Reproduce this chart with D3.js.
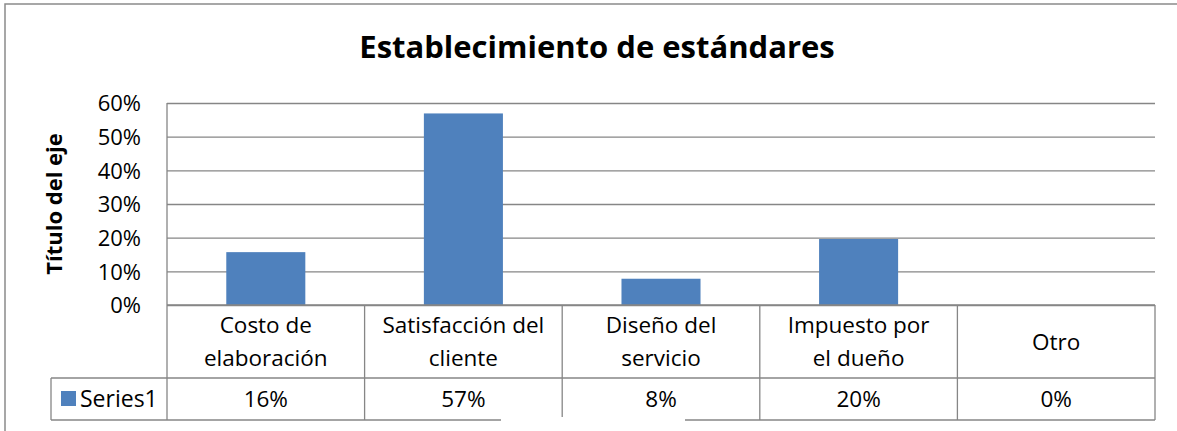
<!DOCTYPE html>
<html>
<head>
<meta charset="utf-8">
<script src="https://cdn.jsdelivr.net/npm/d3@7"></script>
<style>
  html, body { margin: 0; padding: 0; background: #fff; }
  svg { display: block; font-family: "Open Sans", sans-serif; }
</style>
</head>
<body>
<svg id="chart" width="1177" height="431"></svg>
<script>
// ─── Data ────────────────────────────────────────────────────────────────────
const categories    = ['Costo de elaboración', 'Satisfacción del cliente', 'Diseño del servicio', 'Impuesto por el dueño', 'Otro'];
const categoryLines = [['Costo de', 'elaboración'], ['Satisfacción del', 'cliente'], ['Diseño del', 'servicio'], ['Impuesto por', 'el dueño'], ['Otro']];
const values        = [0.157, 0.569, 0.078, 0.196, 0];
const yTicks        = [0, 0.1, 0.2, 0.3, 0.4, 0.5, 0.6];
const seriesName    = 'Series1';
const chartTitle    = 'Establecimiento de estándares';
const axisTitle     = 'Título del eje';

// ─── Layout ──────────────────────────────────────────────────────────────────
const W = 1177, H = 431;
const PL = 167, PR = 1155, PT = 103, PB = 305;   // plot area
const ROW1 = 378, ROW2 = 420;                    // table rows
const LEG_X = 51;
const BLUE = '#4F81BD', GRID = '#868686';
const FS = 22.5;

const svg = d3.select('#chart');
const pct = d3.format('.0%');

const x = d3.scaleBand().domain(categories).range([PL, PR]).paddingInner(0.6).paddingOuter(0.3);
const y = d3.scaleLinear().domain([0, 0.6]).range([PB, PT]);

// outer frame (right and bottom edges fall outside the picture)
svg.append('rect')
  .attr('x', 5).attr('y', 4).attr('width', W + 20).attr('height', H + 20)
  .attr('fill', 'none').attr('stroke', '#8a8a8a').attr('stroke-width', 1.5);

// title
svg.append('text')
  .attr('x', 597).attr('y', 58).attr('text-anchor', 'middle')
  .attr('font-size', 31).attr('font-weight', 700).attr('fill', '#000')
  .text(chartTitle);

// axis title
svg.append('text')
  .attr('transform', 'translate(62,204) rotate(-90)')
  .attr('text-anchor', 'middle').attr('font-size', 22).attr('font-weight', 700)
  .text(axisTitle);

// ── Gridlines + y ticks ────────────────────────────────────────────────────
const yAxis = svg.append('g')
  .attr('transform', `translate(${PL},0)`)
  .call(d3.axisLeft(y).tickValues(yTicks).tickFormat(pct).tickSize(-(PR - PL)).tickPadding(26));
yAxis.select('.domain').remove();
yAxis.selectAll('.tick line').attr('stroke', GRID).attr('stroke-width', 1.3);
yAxis.selectAll('.tick text')
  .attr('font-family', '"Open Sans", sans-serif').attr('font-size', 22).attr('fill', '#000')
  .attr('dy', '0.36em');

// ── Bars ───────────────────────────────────────────────────────────────────
svg.selectAll('.bar').data(values).enter().append('rect')
  .attr('class', 'bar')
  .attr('x', (d, i) => x(categories[i])).attr('width', x.bandwidth())
  .attr('y', d => y(d)).attr('height', d => y(0) - y(d))
  .attr('fill', BLUE);

// ── Data table ─────────────────────────────────────────────────────────────
const half = x.paddingInner() * x.step() / 2;
const bounds = categories.map(c => x(c) - half).concat([PR]);
const tbl = svg.append('g').attr('stroke', GRID).attr('stroke-width', 1.3);

tbl.append('line').attr('x1', PL).attr('x2', PR).attr('y1', PB).attr('y2', PB);
tbl.append('line').attr('x1', LEG_X).attr('x2', PR).attr('y1', ROW1).attr('y2', ROW1);
tbl.append('line').attr('x1', LEG_X).attr('x2', PR).attr('y1', ROW2).attr('y2', ROW2);
tbl.append('line').attr('x1', LEG_X).attr('x2', LEG_X).attr('y1', ROW1).attr('y2', ROW2);
tbl.append('line').attr('x1', PL).attr('x2', PL).attr('y1', PT).attr('y2', ROW2);
tbl.selectAll('.sep').data(bounds.slice(1)).enter().append('line')
  .attr('x1', d => d).attr('x2', d => d).attr('y1', PB).attr('y2', ROW2);

// category labels
const labelMid = (PB + ROW1) / 2;
categoryLines.forEach((lines, i) => {
  const cx = x(categories[i]) + x.bandwidth() / 2;
  const t = svg.append('text').attr('text-anchor', 'middle').attr('font-size', FS).attr('fill', '#000');
  lines.forEach((ln, j) => {
    const off = (j - (lines.length - 1) / 2) * 32.5;
    t.append('tspan').attr('x', cx).attr('y', labelMid + off + 8).text(ln);
  });
});

// values row
const valMid = (ROW1 + ROW2) / 2;
svg.selectAll('.val').data(values).enter().append('text')
  .attr('class', 'val').attr('text-anchor', 'middle').attr('font-size', FS)
  .attr('x', (d, i) => x(categories[i]) + x.bandwidth() / 2)
  .attr('y', valMid + 8).text(d => pct(d));

// legend cell
svg.append('rect').attr('x', 61).attr('y', 391).attr('width', 15).attr('height', 15).attr('fill', BLUE);
svg.append('text').attr('x', 80).attr('y', valMid + 8).attr('font-size', 23).text(seriesName);

// white patch cutting the table bottom (as in the source image)
svg.append('rect').attr('x', 501).attr('y', 417).attr('width', 184).attr('height', 14).attr('fill', '#fff');
</script>
</body>
</html>
